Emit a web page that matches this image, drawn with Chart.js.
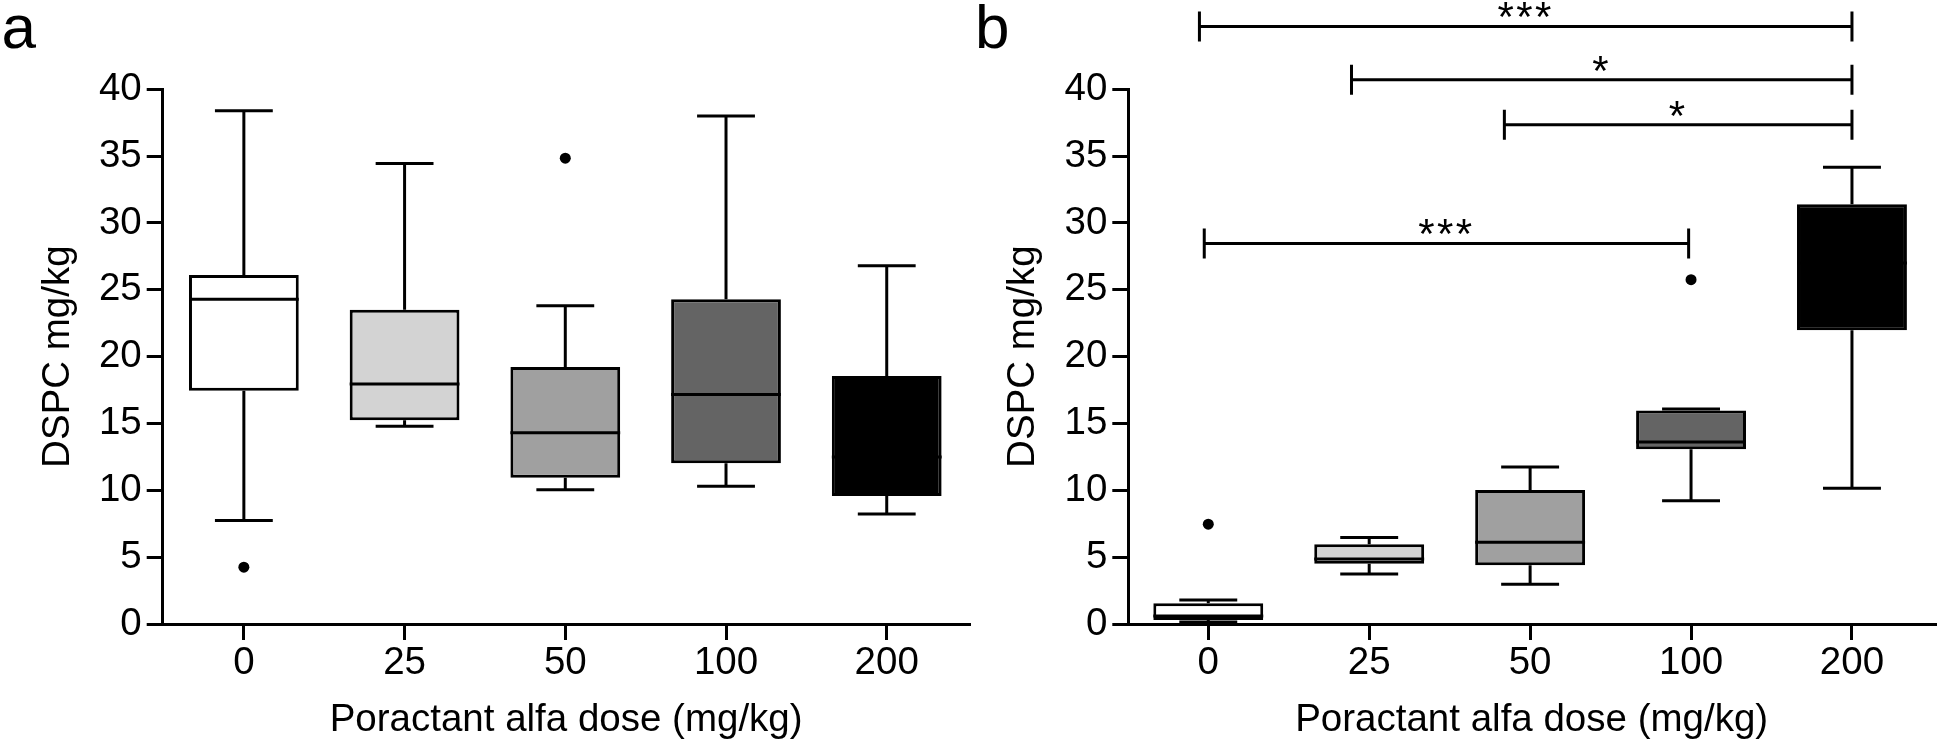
<!DOCTYPE html>
<html><head><meta charset="utf-8">
<script src="https://cdn.jsdelivr.net/npm/chart.js@4.4.1/dist/chart.umd.min.js"></script>
<style>
html,body{margin:0;padding:0;background:#fff;width:1943px;height:749px;overflow:hidden;position:relative;}
canvas{position:absolute;top:0;}
.lab{position:absolute;top:-4px;font:62px/62px "Liberation Sans",Arial,sans-serif;color:#000;}
</style></head><body>
<canvas id="ca" width="975" height="749" style="left:0"></canvas>
<canvas id="cb" width="968" height="749" style="left:975px"></canvas>
<div class="lab" style="left:1.5px">a</div>
<div class="lab" style="left:975px">b</div>
<script>
// ---- data ----
const doseLabels = ['0', '25', '50', '100', '200'];
const yTickValues = [0, 5, 10, 15, 20, 25, 30, 35, 40];

// panel a
const aMin = [7.75, 14.8, 10.05, 10.3, 8.23];
const aQ1  = [17.45, 15.25, 10.95, 12.03, 9.58];
const aMed = [24.3, 17.95, 14.3, 17.17, 12.5];
const aQ3  = [26.1, 23.5, 19.22, 24.3, 18.56];
const aMax = [38.4, 34.45, 23.8, 38.0, 26.8];
const aOutX = [0, 2];
const aOutY = [4.25, 34.85];

// panel b
const bMin = [0.15, 3.74, 2.97, 9.22, 10.16];
const bQ1  = [0.3, 4.5, 4.4, 13.07, 21.97];
const bMed = [0.6, 4.86, 6.12, 13.62, 27.0];
const bQ3  = [1.55, 5.96, 10.02, 15.97, 31.41];
const bMax = [1.8, 6.48, 11.74, 16.09, 34.17];
const bOutX = [0, 3];
const bOutY = [7.47, 25.76];

// significance brackets (panel b)
const sigLabels = ['***', '*', '*', '***'];
const sigFrom = [-0.055, 0.89, 1.84, -0.025];
const sigTo   = [4.0, 4.0, 4.0, 2.985];
const sigY    = [44.7, 40.72, 37.35, 28.47];

// ---- styles ----
const boxFills = ['#ffffff', '#d3d3d3', '#a0a0a0', '#646464', '#000000'];
const FONT = '"Liberation Sans", Arial, sans-serif';
const BOXW = 0.683, CAP = 0.18, TICK_H = 1.12, LW = 3;

const sigPlugin = {
  id: 'sig',
  afterDatasetsDraw(chart, args, opts) {
    if (!opts || !opts.show) return;
    const {ctx, scales: {x, y}} = chart;
    ctx.save();
    ctx.font = '42px ' + FONT;
    try { ctx.letterSpacing = '2.5px'; } catch (e) {}
    ctx.textAlign = 'center';
    ctx.textBaseline = 'alphabetic';
    ctx.fillStyle = '#000';
    sigLabels.forEach((t, k) => {
      const px = x.getPixelForValue((sigFrom[k] + sigTo[k]) / 2);
      const py = y.getPixelForValue(sigY[k]) + 5;
      ctx.fillText(t, px, py);
    });
    ctx.restore();
  }
};

function makeChart(id, mins, q1, med, q3, maxs, outX, outY, withSig, geom) {
  const boxes = doseLabels.map((_, i) => ({x: i, y: [q1[i], q3[i]]}));
  const whisk = [], meds = [];
  doseLabels.forEach((_, i) => {
    whisk.push({x: i, y: q3[i]}, {x: i, y: maxs[i]}, {x: i, y: null},
               {x: i, y: q1[i]}, {x: i, y: mins[i]}, {x: i, y: null},
               {x: i - CAP, y: maxs[i]}, {x: i + CAP, y: maxs[i]}, {x: i, y: null},
               {x: i - CAP, y: mins[i]}, {x: i + CAP, y: mins[i]}, {x: i, y: null});
    meds.push({x: i - BOXW / 2, y: med[i]}, {x: i + BOXW / 2, y: med[i]}, {x: i, y: null});
  });
  const outliers = outX.map((xv, k) => ({x: xv, y: outY[k]}));
  const datasets = [
    {type: 'line', label: 'median', data: meds, borderColor: '#000', borderWidth: LW,
     pointRadius: 0, spanGaps: false, order: 0},
    {type: 'line', label: 'outliers', data: outliers, showLine: false, pointRadius: 5.5,
     pointBackgroundColor: '#000', pointBorderWidth: 0, order: 0},
    {type: 'bar', label: 'box', data: boxes, backgroundColor: boxFills, borderColor: '#000',
     borderWidth: LW, borderSkipped: false, barPercentage: BOXW, categoryPercentage: 1,
     grouped: false, order: 2},
    {type: 'line', label: 'whiskers', data: whisk, borderColor: '#000', borderWidth: LW,
     pointRadius: 0, spanGaps: false, order: 3}
  ];
  if (withSig) {
    const br = [];
    sigLabels.forEach((_, k) => {
      const f = sigFrom[k], t = sigTo[k], yv = sigY[k];
      br.push({x: f, y: yv + TICK_H}, {x: f, y: yv - TICK_H}, {x: f, y: null},
              {x: f, y: yv}, {x: t, y: yv}, {x: t, y: null},
              {x: t, y: yv + TICK_H}, {x: t, y: yv - TICK_H}, {x: t, y: null});
    });
    datasets.push({type: 'line', label: 'brackets', data: br, borderColor: '#000', borderWidth: LW,
      pointRadius: 0, spanGaps: false, clip: false, order: 0});
  }
  return new Chart(document.getElementById(id), {
    type: 'bar',
    data: {datasets},
    plugins: [sigPlugin],
    options: {
      responsive: false, animation: false, devicePixelRatio: 1, events: [],
      layout: {padding: {top: 89.3, right: geom.padRight, bottom: 0, left: 0}},
      plugins: {legend: {display: false}, tooltip: {enabled: false}, sig: {show: withSig}},
      scales: {
        x: {
          type: 'linear', min: geom.xMin, max: geom.xMax, offset: false,
          afterBuildTicks: s => { s.ticks = doseLabels.map((_, i) => ({value: i})); },
          afterFit: s => { s.height = 125; },
          ticks: {callback: v => doseLabels[v], font: {family: FONT, size: 38.5}, color: '#000',
                  padding: 0, maxRotation: 0, autoSkip: false},
          grid: {drawOnChartArea: false, drawTicks: true, tickLength: 16, lineWidth: LW,
                 color: '#000', offset: false},
          border: {display: true, color: '#000', width: LW},
          title: {display: true, text: 'Poractant alfa dose (mg/kg)', color: '#000',
                  font: {family: FONT, size: 38.5}, padding: {top: 0, bottom: 6}}
        },
        y: {
          type: 'linear', min: 0, max: 40,
          afterBuildTicks: s => { s.ticks = yTickValues.map(v => ({value: v})); },
          afterFit: s => { s.width = geom.yWidth; },
          ticks: {font: {family: FONT, size: 38.5}, color: '#000', padding: 5},
          grid: {drawOnChartArea: false, drawTicks: true, tickLength: 16, lineWidth: LW, color: '#000'},
          border: {display: true, color: '#000', width: LW},
          title: {display: true, text: 'DSPC mg/kg', color: '#000',
                  font: {family: FONT, size: 38.5}, padding: {top: geom.titlePad, bottom: 0}}
        }
      }
    }
  });
}

makeChart('ca', aMin, aQ1, aMed, aQ3, aMax, aOutX, aOutY, false,
  {xMin: -0.505, xMax: 4.515, yWidth: 162.7, padRight: 2.3, titlePad: 35});
makeChart('cb', bMin, bQ1, bMed, bQ3, bMax, bOutX, bOutY, true,
  {xMin: -0.497, xMax: 4.516, yWidth: 153.3, padRight: 8, titlePad: 25.3});
</script>
</body></html>
